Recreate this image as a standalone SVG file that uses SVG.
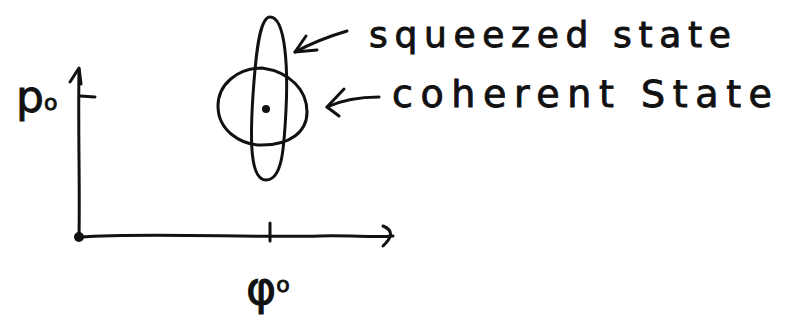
<svg xmlns="http://www.w3.org/2000/svg" width="789" height="331" viewBox="0 0 789 331">
<style>
.ink{fill:none;stroke:#111;stroke-width:3;stroke-linecap:round;stroke-linejoin:round}
.txt{font-family:"DejaVu Sans",sans-serif;fill:#111;stroke:#111;stroke-width:0.9}
</style>
<rect width="789" height="331" fill="#fff"/>
<g id="axes">
<path class="ink" d="M79,237 C80,190 78,130 79,69"/>
<path class="ink" d="M70,82 L79,68 L81,84"/>
<path class="ink" d="M80,96 L95,97"/>
<path class="ink" d="M79,237 C150,232 250,238 320,236 C350,235 375,238 393,236"/>
<path class="ink" d="M383,226 Q398,232 383,246"/>
<path class="ink" d="M270,223 L270,241"/>
<circle cx="79" cy="237" r="5" fill="#111"/>
</g>
<g id="coherent-state">
<path class="ink" d="M262,68 C238,68 218,84 218,106 C218,130 240,145 262,145 C290,145 307,132 307,112 C307,90 290,72 262,68 Z"/>
<circle cx="266" cy="109" r="4" fill="#111"/>
</g>
<g id="squeezed-state">
<path class="ink" d="M270,17 C260,17 256,50 253,95 C250,140 250,180 266,180 C282,180 284,150 286,110 C288,70 286,17 270,17 Z"/>
</g>
<g id="connectors">
<path class="ink" d="M347,31 C330,36 310,44 295,52"/>
<path class="ink" d="M306,36 L295,52 L317,50"/>
<path class="ink" d="M379,97 C360,97 340,101 327,107"/>
<path class="ink" d="M344,89 L327,107 L339,116"/>
</g>
<g id="labels">
<text class="txt" x="369" y="47" font-size="36" textLength="362" lengthAdjust="spacing">squeezed state</text>
<text class="txt" x="392" y="107" font-size="38" textLength="380" lengthAdjust="spacing">coherent State</text>
<text class="txt" x="16" y="112" font-size="44">p<tspan font-size="22" dy="-2">o</tspan></text>
<text class="txt" x="246" y="304" font-size="46">φ<tspan font-size="22" dy="-12">o</tspan></text>
</g>
</svg>
